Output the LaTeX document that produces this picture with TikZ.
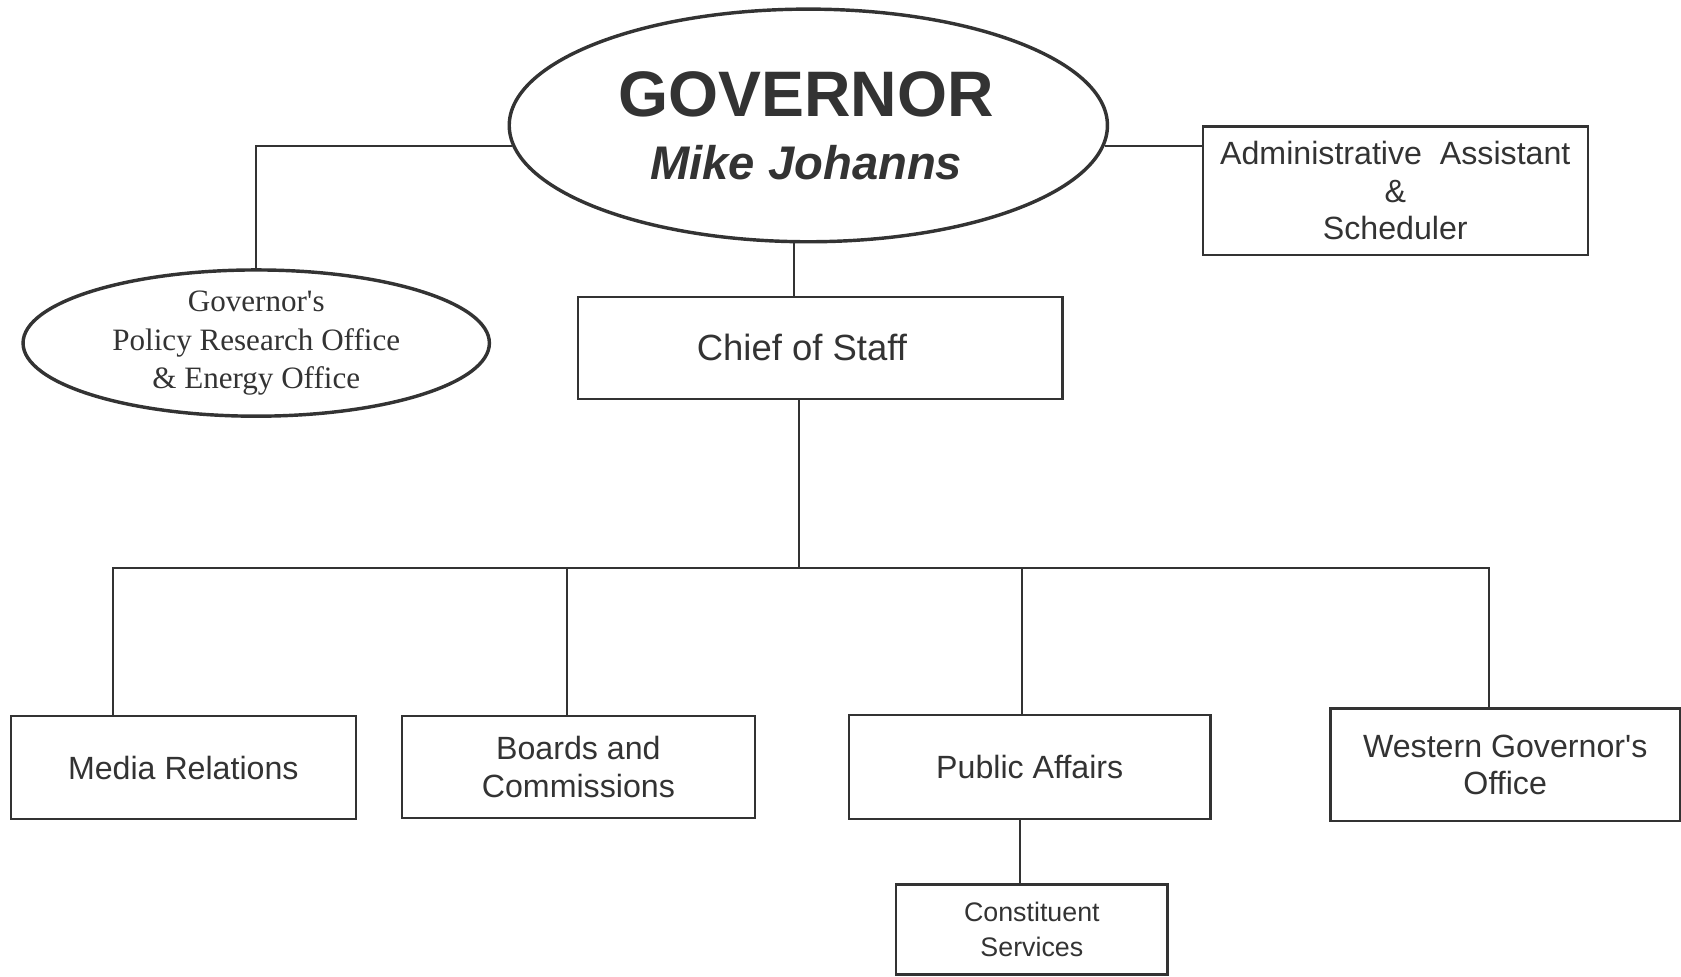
\documentclass[tikz,border=0pt]{standalone}
\usepackage{fontspec}
\setmainfont{Liberation Sans}[Ligatures=TeXOff]
\newfontfamily\serifface{Liberation Serif}[Ligatures=TeXOff]
\usetikzlibrary{shapes.geometric}
\definecolor{ink}{HTML}{333333}
\begin{document}
\begin{tikzpicture}[x=0.5pt,y=-0.5pt,
  box/.style={draw=ink,line width=1.1pt,rectangle,inner sep=0pt,align=center,
    text=ink,font=\fontsize{15}{17.5}\selectfont},
  oval/.style={draw=ink,line width=1.6pt,ellipse,inner sep=0pt,align=center,text=ink},
  link/.style={draw=ink,line width=0.9pt},
  label/.style={text=ink,inner sep=0pt}]
\useasboundingbox (0,0) rectangle (1568,911);

% top level
\node[oval,minimum width=279pt,minimum height=108.5pt] (gov) at (754,117) {};
\node[label,font=\fontsize{30}{30}\selectfont\bfseries] (govtitle) at (752,88) {GOVERNOR};
\node[label,font=\fontsize{22}{22}\selectfont\bfseries\itshape] (govname) at (752,152) {Mike Johanns};

\node[oval,minimum width=217.5pt,minimum height=62.5pt,
  font=\serifface\fontsize{14.5}{17.75}\selectfont] (policy) at (239,320)
  {Governor's\\Policy Research Office\\\& Energy Office};

\node[box,minimum width=179.5pt,minimum height=60pt] (admin) at (1301.5,178)
  {Administrative\ \ Assistant\\\&\\Scheduler};

\node[box,minimum width=226pt,minimum height=47.5pt,font=\fontsize{17}{20}\selectfont]
  (chief) at (765,324.5) {\hspace*{-17pt}Chief of Staff};

% departments
\node[box,minimum width=161pt,minimum height=48pt] (media) at (171,716) {Media Relations};
\node[box,minimum width=164.5pt,minimum height=47.5pt] (boards) at (539.5,715.5) {Boards and\\Commissions};
\node[box,minimum width=168.5pt,minimum height=48.5pt] (public) at (960.5,715.5) {Public Affairs};
\node[box,minimum width=163pt,minimum height=52.5pt] (western) at (1404,713.5) {Western Governor's\\Office};
\node[box,minimum width=126.5pt,minimum height=42pt,font=\fontsize{12.5}{16.5}\selectfont]
  (const) at (962.5,867) {Constituent\\Services};

% connectors
\coordinate (gx) at (741,0);
\coordinate (cx) at (745,530);
\coordinate (dm) at (105,530);
\coordinate (db) at (529,530);
\coordinate (dp) at (953,530);
\coordinate (dw) at (1389,530);
\coordinate (px) at (951,0);

\draw[link] (gov.184.5) -| (policy.north);
\draw[link] (gov.-4.5) -- (gov.-4.5 -| admin.west);
\draw[link] (gx |- gov.south) -- (gx |- chief.north);
\draw[link] (cx |- chief.south) -- (cx);
\draw[link] (dm |- media.north) -- (dm) -- (dw) -- (dw |- western.north);
\draw[link] (db) -- (db |- boards.north);
\draw[link] (dp) -- (dp |- public.north);
\draw[link] (px |- public.south) -- (px |- const.north);
\end{tikzpicture}
\end{document}
